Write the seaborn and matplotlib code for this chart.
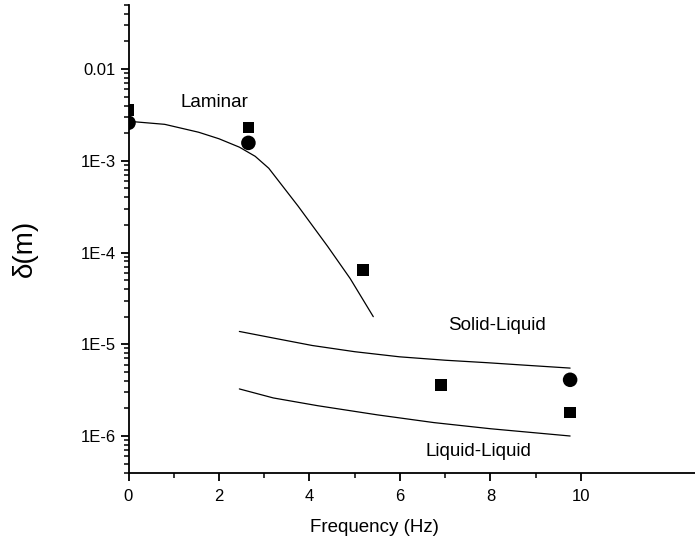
import numpy as np
import pandas as pd
import matplotlib
matplotlib.use("Agg")
import matplotlib.pyplot as plt
from matplotlib.ticker import FixedLocator, FixedFormatter, LogLocator, NullFormatter
import seaborn as sns

# Measured film thickness (squares and circles)
square_freq = [0.0, 2.65, 5.18, 6.91, 9.76]
square_delta = [3.6e-3, 2.3e-3, 6.5e-5, 3.6e-6, 1.8e-6]
circle_freq = [0.0, 2.65, 9.76]
circle_delta = [2.6e-3, 1.57e-3, 4.1e-6]

# Model curves
laminar_freq = [0.0, 0.8, 1.55, 2.0, 2.45, 2.8, 3.1, 3.75, 4.4, 4.9, 5.41]
laminar_delta = [2.7e-3, 2.5e-3, 2.05e-3, 1.74e-3, 1.41e-3, 1.12e-3, 8.3e-4,
                 3.2e-4, 1.17e-4, 5.2e-5, 2.0e-5]
solid_freq = [2.45, 3.2, 4.06, 5.0, 5.99, 7.0, 7.92, 8.8, 9.76]
solid_delta = [1.38e-5, 1.17e-5, 9.7e-6, 8.3e-6, 7.3e-6, 6.7e-6, 6.3e-6, 5.9e-6, 5.5e-6]
liquid_freq = [2.45, 3.2, 4.18, 5.5, 6.75, 8.0, 9.76]
liquid_delta = [3.26e-6, 2.6e-6, 2.14e-6, 1.7e-6, 1.4e-6, 1.2e-6, 1.0e-6]

y_tick_values = [1e-6, 1e-5, 1e-4, 1e-3, 1e-2]
y_tick_labels = ["1E-6", "1E-5", "1E-4", "1E-3", "0.01"]
x_tick_values = [0, 2, 4, 6, 8, 10]

sns.set_theme(style="ticks")
plt.rcParams["font.family"] = ["Liberation Sans", "DejaVu Sans"]

fig = plt.figure(figsize=(6.95, 5.46), dpi=100)
ax = fig.add_axes([128.5 / 695, 1 - 472.5 / 546, (695 - 128.5) / 695, (472.5 - 5) / 546])

for fx, dy in [(laminar_freq, laminar_delta), (solid_freq, solid_delta), (liquid_freq, liquid_delta)]:
    sns.lineplot(x=fx, y=dy, ax=ax, color="black", linewidth=0.9, sort=False,
                 estimator=None, legend=False)

sns.scatterplot(x=square_freq, y=square_delta, ax=ax, marker="s", s=70, color="black",
                edgecolor="none", legend=False, zorder=3)
sns.scatterplot(x=circle_freq, y=circle_delta, ax=ax, marker="o", s=110, color="black",
                edgecolor="none", legend=False, zorder=3)

ax.set_yscale("log")
ax.set_xlim(0, 12.52)
ax.set_ylim(4e-7, 0.05)

ax.xaxis.set_major_locator(FixedLocator(x_tick_values))
ax.xaxis.set_minor_locator(FixedLocator([1, 3, 5, 7, 9]))
ax.yaxis.set_major_locator(FixedLocator(y_tick_values))
ax.yaxis.set_major_formatter(FixedFormatter(y_tick_labels))
ax.yaxis.set_minor_locator(LogLocator(base=10, subs=np.arange(2, 10)))
ax.yaxis.set_minor_formatter(NullFormatter())

for side in ["top", "right"]:
    ax.spines[side].set_visible(False)
for side in ["left", "bottom"]:
    ax.spines[side].set_linewidth(1.3)
    ax.spines[side].set_color("black")

ax.tick_params(which="major", direction="out", length=6, width=1.3, labelsize=12,
               colors="black")
ax.tick_params(which="minor", direction="out", length=3.5, width=1.1, colors="black")
ax.tick_params(axis="x", pad=6)
ax.tick_params(axis="y", pad=3)

ax.set_xlabel("Frequency (Hz)", fontsize=13.5, color="black")
ax.xaxis.set_label_coords(5.43 / 12.52, -0.1)
ax.set_ylabel("δ(m)", fontsize=20, color="black")
ax.yaxis.set_label_coords(-0.16, 0.48)

ax.text(1.89, 4.3e-3, "Laminar", fontsize=13.5, ha="center", va="center", color="black")
ax.text(8.15, 1.6e-5, "Solid-Liquid", fontsize=13.5, ha="center", va="center", color="black")
ax.text(7.74, 6.8e-7, "Liquid-Liquid", fontsize=13.5, ha="center", va="center", color="black")

ax.set_facecolor("white")
fig.patch.set_facecolor("white")
fig.savefig("out.png", dpi=100)
